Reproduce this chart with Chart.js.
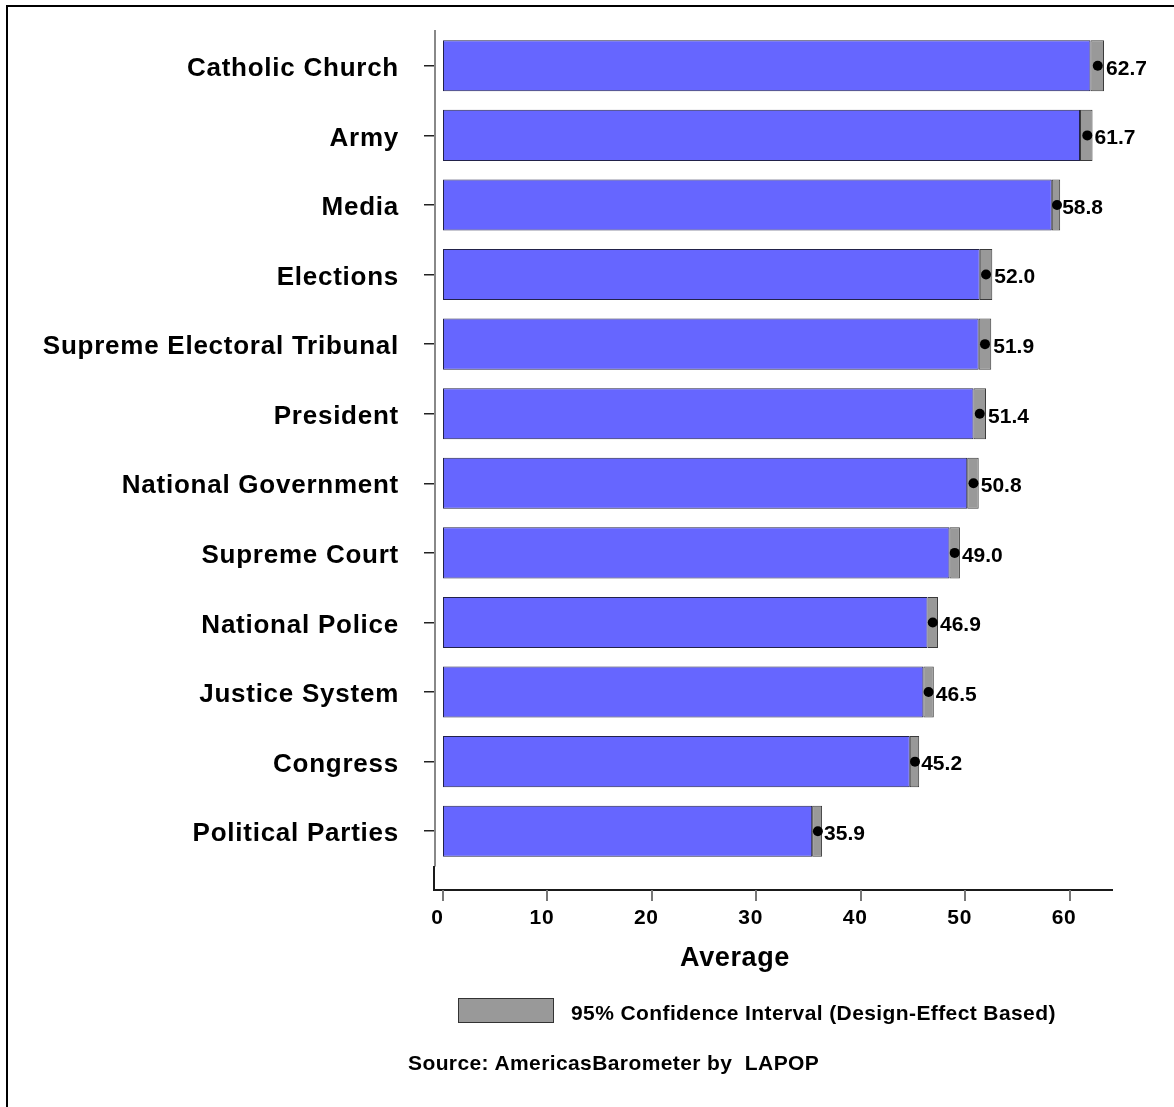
<!DOCTYPE html>
<html>
<head>
<meta charset="utf-8">
<script src="https://cdn.jsdelivr.net/npm/chart.js@4/dist/chart.umd.min.js"></script>
<style>
  html, body { margin: 0; padding: 0; background: #fff; }
  body { width: 1174px; height: 1107px; position: relative; overflow: hidden; font-family: "Liberation Sans", Arial, sans-serif; }
  #frame { position: absolute; left: 6px; top: 5px; width: 1300px; height: 1300px; border-left: 2px solid #000; border-top: 2px solid #000; box-sizing: border-box; }
  #c { position: absolute; left: 0; top: 0; }
  .txt { position: absolute; font-weight: bold; color: #000; white-space: pre; line-height: 1; }
  #xtitle { font-size: 27px; letter-spacing: 0.6px; left: 735px; top: 957px; transform: translate(-50%, -50%); }
  #legbox { position: absolute; left: 458px; top: 998px; width: 96px; height: 25px; background: #999999; border: 1px solid #333; box-sizing: border-box; }
  #legtxt { font-size: 21px; letter-spacing: 0.4px; left: 571px; top: 1012px; transform: translateY(-50%); }
  #source { font-size: 21px; letter-spacing: 0.4px; left: 408px; top: 1062px; transform: translateY(-50%); }
</style>
</head>
<body>
<div id="frame"></div>
<canvas id="c" width="1174" height="1107"></canvas>
<div class="txt" id="xtitle">Average</div>
<div id="legbox"></div>
<div class="txt" id="legtxt">95% Confidence Interval (Design-Effect Based)</div>
<div class="txt" id="source">Source: AmericasBarometer by  LAPOP</div>
<script>
const categories = ["Catholic Church", "Army", "Media", "Elections", "Supreme Electoral Tribunal", "President", "National Government", "Supreme Court", "National Police", "Justice System", "Congress", "Political Parties"];
const means   = [62.7, 61.7, 58.8, 52.0, 51.9, 51.4, 50.8, 49.0, 46.9, 46.5, 45.2, 35.9];
const ciLower = [62.0, 61.0, 58.3, 51.4, 51.3, 50.8, 50.2, 48.5, 46.4, 46.0, 44.7, 35.35];
const ciUpper = [63.3, 62.2, 59.1, 52.6, 52.5, 52.0, 51.3, 49.5, 47.4, 47.0, 45.6, 36.3];
const xTicks  = [0, 10, 20, 30, 40, 50, 60];

const FONT = '"Liberation Sans", Arial, sans-serif';

const decorPlugin = {
  id: 'decor',
  beforeDraw(chart) {
    chart.ctx.letterSpacing = '0.75px';
  },
  afterDatasetsDraw(chart) {
    const ctx = chart.ctx;
    const xs = chart.scales.x, ys = chart.scales.y;
    const ca = chart.chartArea;
    const axisY = 890;
    ctx.save();
    ctx.letterSpacing = '0px';
    // connecting segment and x axis line
    ctx.strokeStyle = '#1a1a1a';
    ctx.lineWidth = 2;
    ctx.beginPath();
    ctx.moveTo(ca.left - 1, ca.bottom);
    ctx.lineTo(ca.left - 1, axisY);
    ctx.lineTo(ca.right, axisY);
    ctx.stroke();
    // x tick marks
    ctx.strokeStyle = '#777';
    ctx.lineWidth = 2;
    xTicks.forEach(v => {
      const px = Math.round(xs.getPixelForValue(v));
      ctx.beginPath();
      ctx.moveTo(px, axisY);
      ctx.lineTo(px, axisY + 11);
      ctx.stroke();
    });
    // value labels
    ctx.fillStyle = '#000';
    ctx.font = 'bold 21px ' + FONT;
    ctx.textAlign = 'left';
    ctx.textBaseline = 'middle';
    means.forEach((m, i) => {
      const px = xs.getPixelForValue(ciUpper[i]) + 2;
      const py = ys.getPixelForValue(i);
      ctx.fillText(m.toFixed(1), px, py + 3);
    });
    ctx.restore();
  }
};

new Chart(document.getElementById('c'), {
  type: 'bar',
  data: {
    labels: categories,
    datasets: [
      {
        type: 'line',
        indexAxis: 'y',
        data: means,
        showLine: false,
        pointRadius: 5,
        pointHoverRadius: 5,
        pointBackgroundColor: '#000',
        pointBorderColor: '#000',
        pointBorderWidth: 0,
        order: 0
      },
      {
        data: ciLower.map((lo, i) => [lo, ciUpper[i]]),
        backgroundColor: '#999999',
        borderColor: '#3a3a3a',
        borderWidth: 1,
        borderSkipped: false,
        grouped: false,
        barPercentage: 0.735,
        categoryPercentage: 1,
        order: 2
      },
      {
        data: ciLower.map(lo => [0, lo]),
        backgroundColor: '#6666FF',
        borderColor: '#22224a',
        borderWidth: 1,
        borderSkipped: false,
        grouped: false,
        barPercentage: 0.735,
        categoryPercentage: 1,
        order: 1
      }
    ]
  },
  options: {
    indexAxis: 'y',
    responsive: false,
    animation: false,
    devicePixelRatio: 1,
    layout: { padding: { left: 0, top: 31, right: 61, bottom: 0 } },
    plugins: { legend: { display: false }, tooltip: { enabled: false } },
    scales: {
      x: {
        type: 'linear',
        min: -0.766,
        max: 64.16,
        afterBuildTicks: (s) => { s.ticks = xTicks.map(v => ({ value: v })); },
        afterFit: (s) => { s.height = 1107 - 866; s.paddingLeft = 0; s.paddingRight = 0; },
        border: { display: false },
        grid: { display: false, drawTicks: false },
        ticks: { color: '#000', padding: 40, labelOffset: -5.5, font: { family: FONT, size: 21, weight: 'bold' } }
      },
      y: {
        type: 'category',
        afterFit: (s) => { s.width = 435; s.paddingTop = 0; s.paddingBottom = 0; },
        border: { display: true, color: '#888', width: 2 },
        grid: { display: true, offset: false, drawOnChartArea: false, drawTicks: true, tickLength: 11, color: '#222', lineWidth: 1.5 },
        ticks: { color: '#000', padding: 25, labelOffset: 3, font: { family: FONT, size: 26, weight: 'bold' } }
      }
    }
  },
  plugins: [decorPlugin]
});
</script>
</body>
</html>
